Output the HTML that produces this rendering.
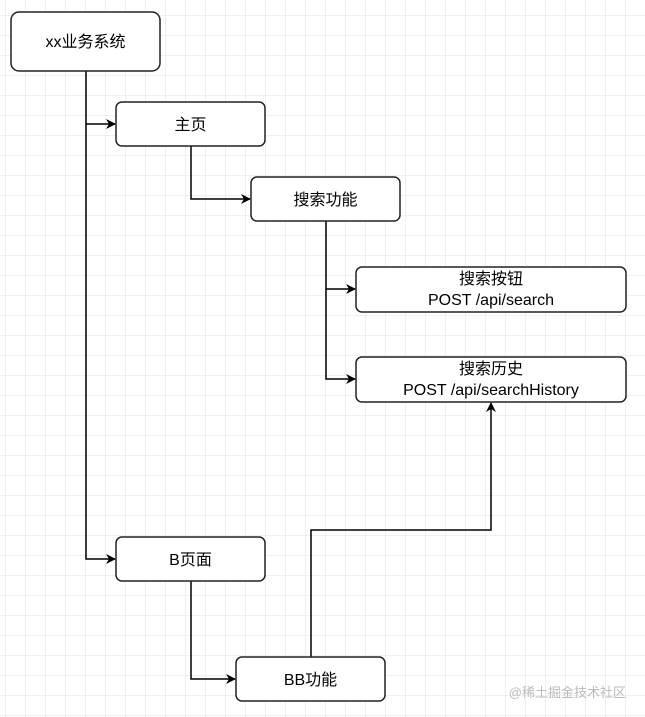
<!DOCTYPE html>
<html><head><meta charset="utf-8"><style>
html,body{margin:0;padding:0;width:645px;height:717px;overflow:hidden;background:#fff}
</style></head><body>
<svg width="645" height="717" xmlns="http://www.w3.org/2000/svg" font-family="'Liberation Sans','Noto Sans CJK SC',sans-serif">
<defs>
<pattern id="g" x="5" y="15" width="20" height="20" patternUnits="userSpaceOnUse">
<path d="M0 0H20M0 0V20" stroke="#e2e2e2" stroke-width="1" fill="none"/>
</pattern>
<marker id="a" markerWidth="10" markerHeight="10" refX="9" refY="5" orient="auto" markerUnits="userSpaceOnUse">
<path d="M0 0L10 5L0 10L3 5Z" fill="#000"/>
</marker>
</defs>
<rect width="645" height="717" fill="url(#g)"/>
<g stroke="#000" stroke-width="1.5" fill="none">
<path d="M86 71V559H115" marker-end="url(#a)"/>
<path d="M86 124H115" marker-end="url(#a)"/>
<path d="M191 146V199H250" marker-end="url(#a)"/>
<path d="M326 221V379H355" marker-end="url(#a)"/>
<path d="M326 289H355" marker-end="url(#a)"/>
<path d="M191 581V679H235" marker-end="url(#a)"/>
<path d="M311 657V530H491V403" marker-end="url(#a)"/>
</g>
<g stroke="#222" stroke-width="1.5" fill="#fff">
<rect x="11" y="12" width="149" height="59" rx="8"/>
<rect x="116" y="102" width="149" height="44" rx="6"/>
<rect x="251" y="177" width="149" height="44" rx="6"/>
<rect x="356" y="267" width="270" height="45" rx="6"/>
<rect x="356" y="357" width="270" height="45" rx="6"/>
<rect x="116" y="537" width="149" height="44" rx="6"/>
<rect x="236" y="657" width="149" height="44" rx="6"/>
</g>
<g font-size="16" fill="#000" text-anchor="middle">
<text x="85.5" y="47">xx业务系统</text>
<text x="190.5" y="130">主页</text>
<text x="325.5" y="205">搜索功能</text>
<text x="491" y="284">搜索按钮</text>
<text x="491" y="305">POST /api/search</text>
<text x="491" y="374">搜索历史</text>
<text x="491" y="395">POST /api/searchHistory</text>
<text x="190.5" y="565">B页面</text>
<text x="310.5" y="685">BB功能</text>
</g>
<text x="626" y="697" font-size="13" fill="#bbb" text-anchor="end">@稀土掘金技术社区</text>
</svg>
</body></html>
